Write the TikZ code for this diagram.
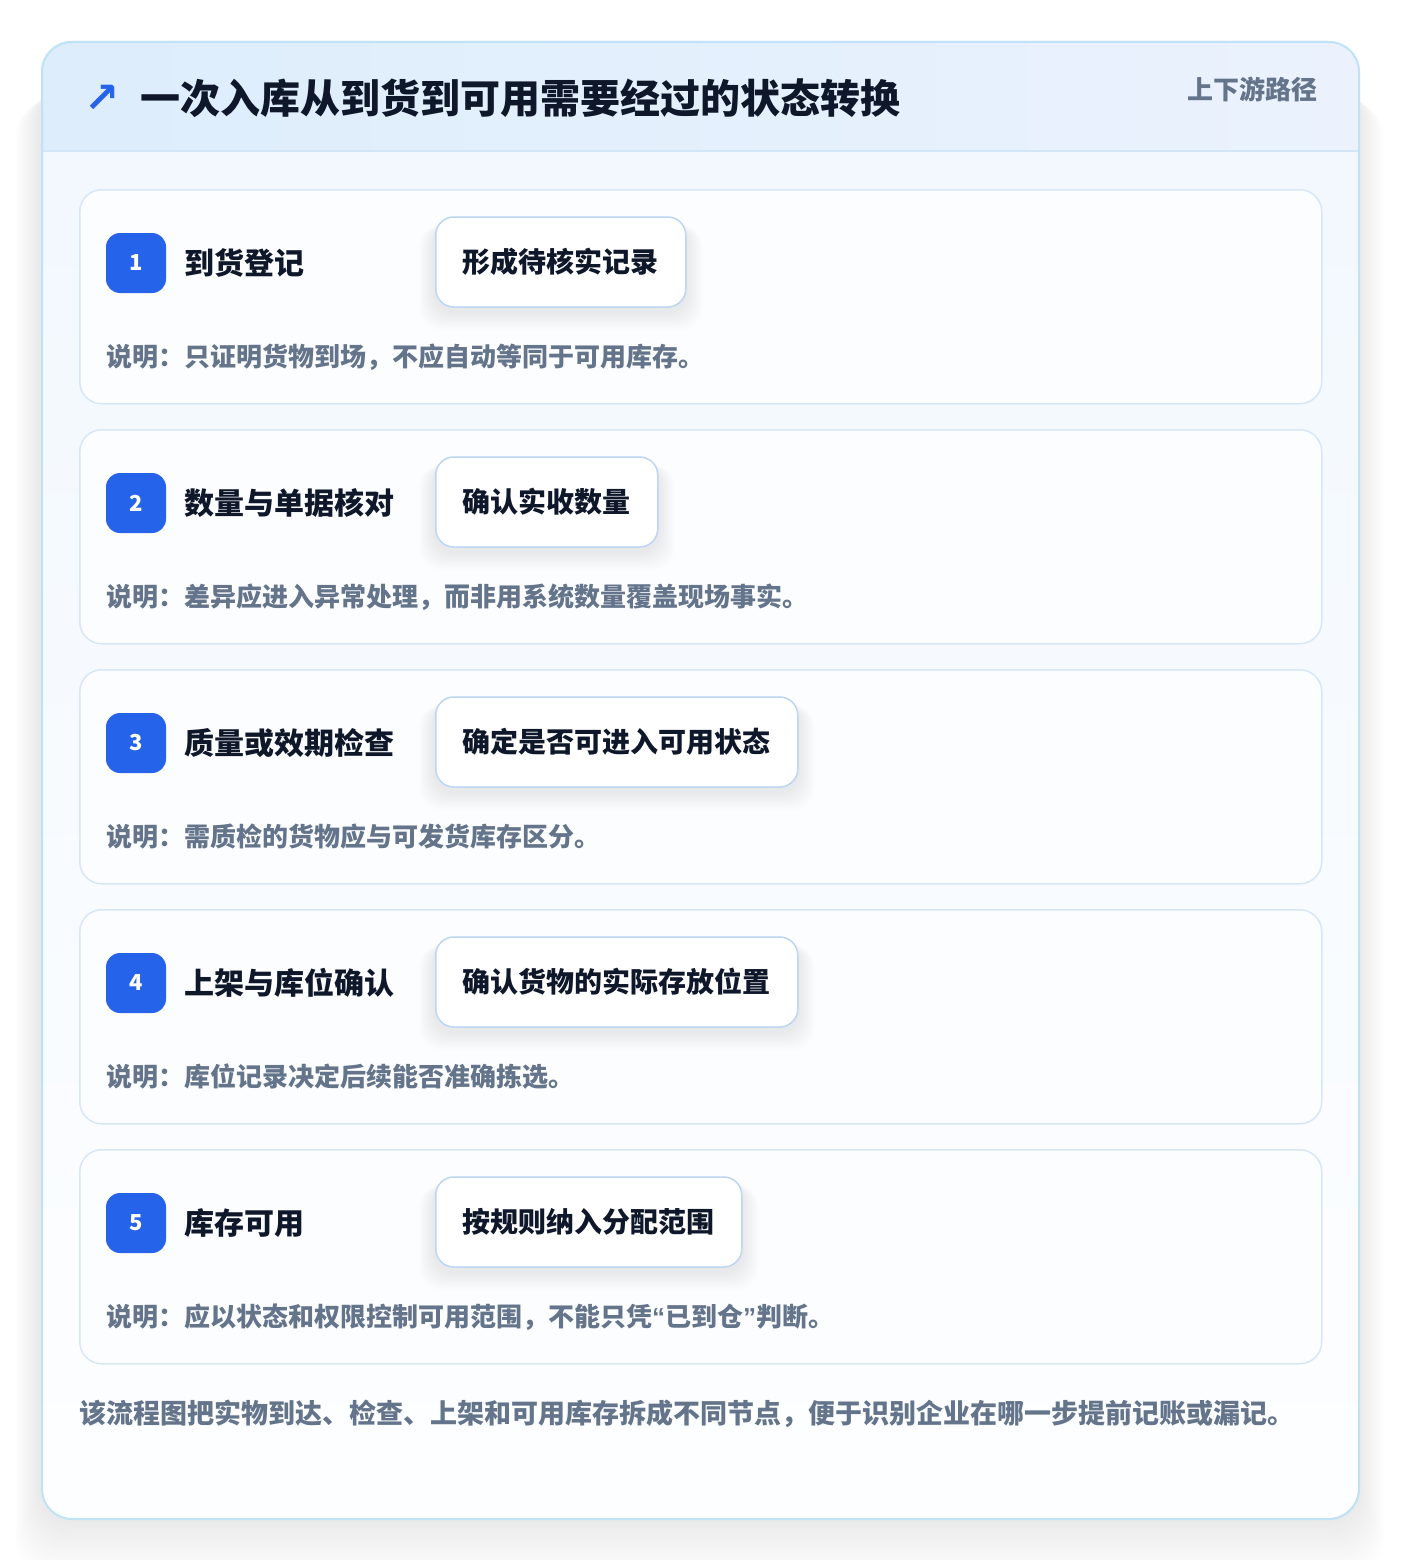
\documentclass[tikz,border=0pt]{standalone}
\usepackage{fontspec}
\setmainfont{Noto Sans CJK SC}
\newfontfamily\symfont{DejaVu Sans}
\newfontfamily\quotefont{Liberation Sans}
\usetikzlibrary{calc}
\definecolor{ink}{HTML}{0F172A}
\definecolor{slate}{HTML}{64748B}
\definecolor{brand}{HTML}{2563EB}
\definecolor{outerline}{HTML}{BFE2F6}
\definecolor{cardline}{HTML}{D8E7F8}
\definecolor{boxline}{HTML}{BDD5F2}
\definecolor{hdrL}{HTML}{DDEDFC}
\definecolor{hdrR}{HTML}{EBF2FD}
\definecolor{hdrline}{HTML}{D3E6F8}
\definecolor{bodytop}{HTML}{F2F8FE}
\definecolor{bodybot}{HTML}{FDFEFF}
\definecolor{cardfill}{HTML}{FCFDFF}
\pgfdeclarelayer{bottom}\pgfdeclarelayer{shade}
\pgfsetlayers{bottom,shade,main}
\newcommand{\fsz}[1]{\fontsize{#1}{#1}\selectfont\bfseries}
\newcommand{\qopen}{{\quotefont\bfseries “}}
\newcommand{\qclose}{{\quotefont\bfseries ”}}
\begin{document}
\begin{tikzpicture}[x=1pt,y=-1pt,
  txt/.style={inner sep=0pt, anchor=west},
  panel/.style={draw=outerline, line width=2pt, rounded corners=30pt, minimum width=1317pt, minimum height=1477pt, anchor=north west, inner sep=0pt},
  card/.style={draw=cardline, line width=1.5pt, fill=cardfill, rounded corners=22pt, minimum width=1242pt, minimum height=214pt, anchor=north west, inner sep=0pt},
  badge/.style={fill=brand, rounded corners=14pt, minimum size=60pt, inner sep=0pt, text=white, font=\fsz{22}},
  steptitle/.style={txt, text=ink, font=\fsz{30}},
  statebox/.style={draw=boxline, line width=1.5pt, fill=white, rounded corners=18pt, minimum height=90pt, inner xsep=27pt, inner ysep=0pt, anchor=west, text=ink, font=\fsz{28}},
  desc/.style={txt, text=slate, font=\fsz{26}},
  titletext/.style={txt, text=ink, font=\fsz{40}},
  tag/.style={inner sep=0pt, anchor=east, text=slate, font=\fsz{26}},
  footer/.style={txt, text=slate, font=\fsz{27}}
]
\useasboundingbox (0,0) rectangle (1400,1560);
\begin{pgfonlayer}{bottom}
  \fill[white] (0,0) rectangle (1400,1560);
  \foreach \k in {1,...,22}{
    \fill[black, opacity=0.005, rounded corners=36pt] (41-1.2*\k, 80+\k) rectangle (1358+1.2*\k, 1518+2.6*\k);
  }
  \begin{scope}
    \clip[rounded corners=30pt] (41,41) rectangle (1358,1518);
    \shade[left color=hdrL, right color=hdrR] (41,41) rectangle (1358,151);
    \shade[top color=bodytop, bottom color=bodybot] (41,151) rectangle (1358,1518);
    \draw[hdrline, line width=1.5pt] (41,151) -- (1358,151);
  \end{scope}
  \node[panel] (panel) at (41,41) {};
\end{pgfonlayer}

\node[inner sep=0pt, text=brand, font=\symfont\fontsize{42}{42}\selectfont\bfseries] (arrow) at (102,99) {↗};
\node[titletext] (title) at (140,98) {一次入库从到货到可用需要经过的状态转换};
\node[tag] (tag) at (1318,89) {上下游路径};

\foreach \i/\stitle/\sstate/\sdesc in {
  1/到货登记/形成待核实记录/说明：只证明货物到场，不应自动等同于可用库存。,
  2/数量与单据核对/确认实收数量/说明：差异应进入异常处理，而非用系统数量覆盖现场事实。,
  3/质量或效期检查/确定是否可进入可用状态/说明：需质检的货物应与可发货库存区分。,
  4/上架与库位确认/确认货物的实际存放位置/说明：库位记录决定后续能否准确拣选。,
  5/库存可用/按规则纳入分配范围/说明：应以状态和权限控制可用范围，不能只凭\qopen 已到仓\qclose 判断。}{
  \pgfmathsetmacro\T{189+240*(\i-1)}
  \begin{pgfonlayer}{bottom}
    \node[card] (card\i) at (79,\T) {};
  \end{pgfonlayer}
  \node[badge] (badge\i) at (136,\T+74) {\i};
  \node[steptitle] (stitle\i) at (184,\T+74) {\stitle};
  \node[statebox] (state\i) at (435,\T+73) {\sstate};
  \begin{pgfonlayer}{shade}
    \foreach \k in {1,...,10}{
      \fill[black, opacity=0.007, rounded corners=22pt]
        ($(state\i.north west)+(-1.6*\k, 6+0.3*\k)$) rectangle ($(state\i.south east)+(1.6*\k, 4+1.8*\k)$);
    }
  \end{pgfonlayer}
  \node[desc] (desc\i) at (106,\T+168) {\sdesc};
}

\node[footer] (foot) at (79,1414) {该流程图把实物到达、检查、上架和可用库存拆成不同节点，便于识别企业在哪一步提前记账或漏记。};
\end{tikzpicture}
\end{document}
